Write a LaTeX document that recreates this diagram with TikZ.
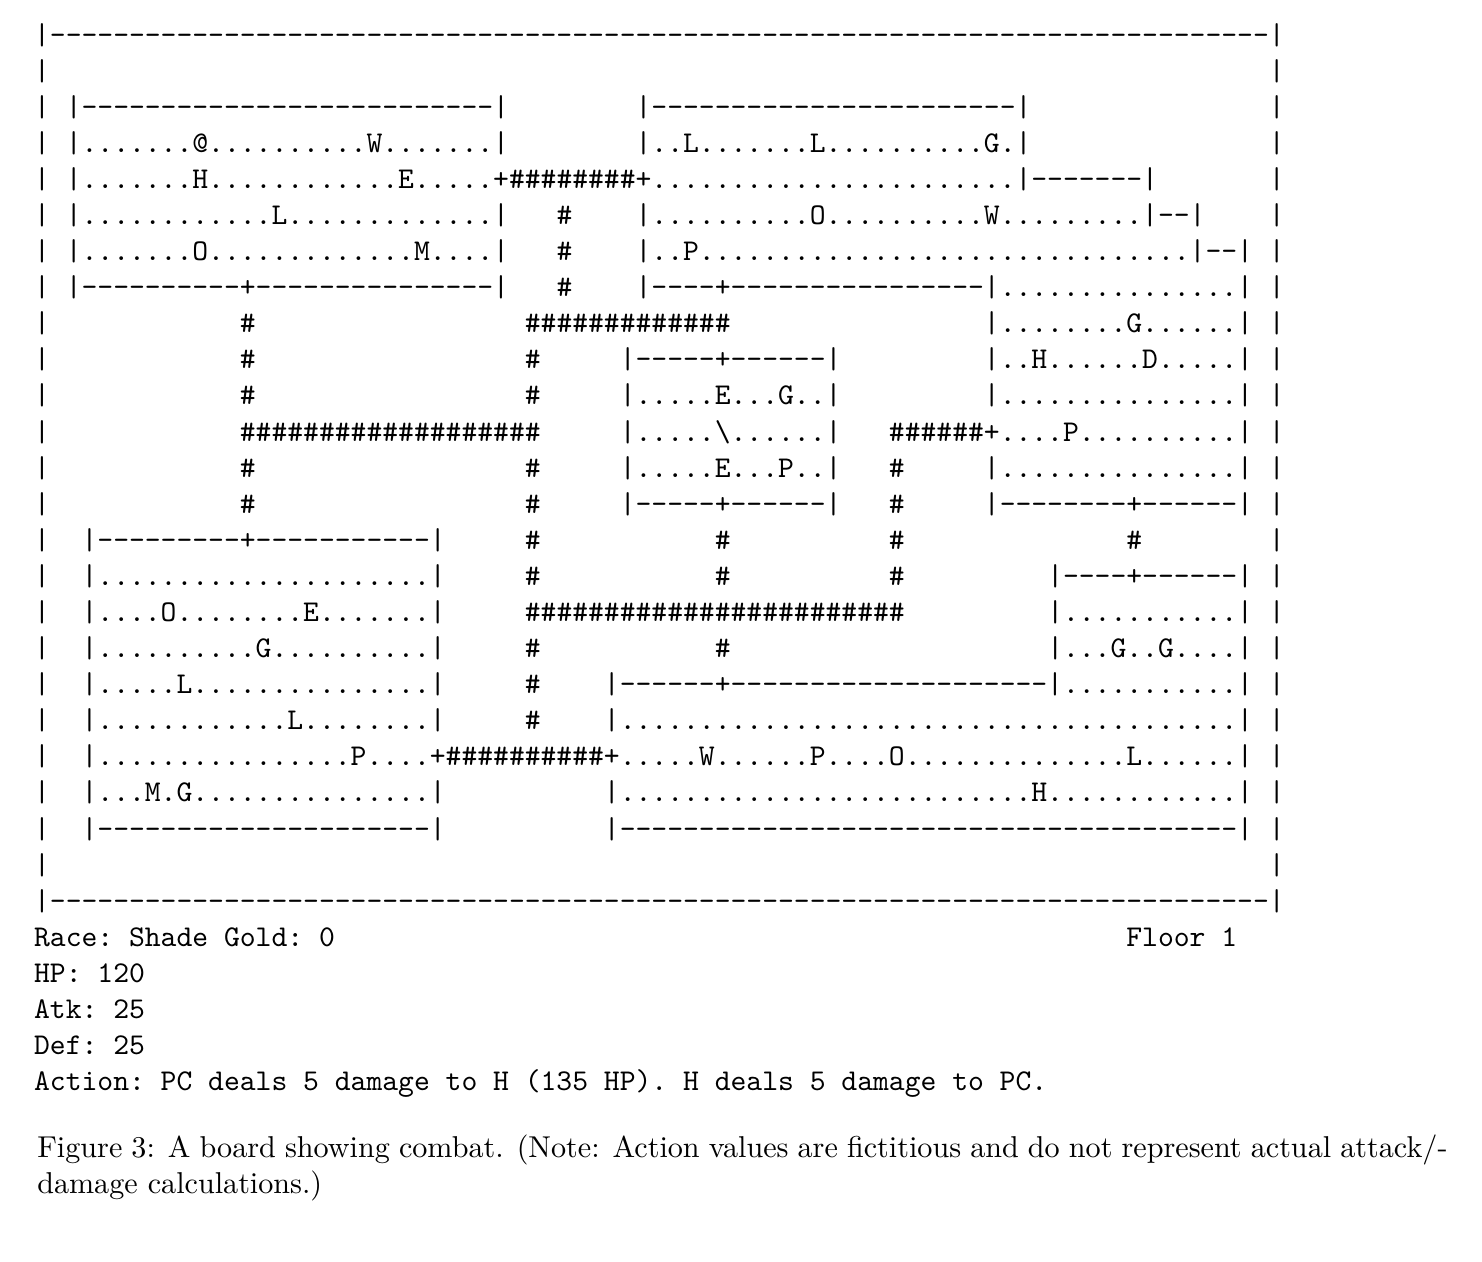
\documentclass[tikz,border=0pt]{standalone}
\usepackage{tikz}
\tikzset{
  board-style/.style = {
    x=5.25pt, y=-11.97pt
  },
  cell-style/.style = {
    anchor=base west, inner sep=0pt, outer sep=0pt,
    font=\ttfamily\frenchspacing
  },
  caption-style/.style = {
    anchor=base west, inner sep=0pt, outer sep=0pt,
    font=\rmfamily
  }
}
% dashes one by one, so that no ligature joins them
\newcommand\dashes[1]{\foreach \i in {1,...,#1}{-}}
\newcommand\pts[1]{\foreach \i in {1,...,#1}{.}}
\newcommand\hashes[1]{\foreach \i in {1,...,#1}{\#}}
\def\placeSeg row:#1 col:#2 text:#3;{
  \node [cell-style] (r#1c#2) at (#2,#1) {#3};
}

\begin{document}
\begin{tikzpicture}[board-style]
  \useasboundingbox (0pt,0pt) rectangle (491.5pt,-418.5pt);
  \begin{scope}[shift={(11.31pt,-14.59pt)}]
    % outer frame
    \placeSeg row:0 col:0 text:{|\dashes{77}|};
    \foreach \r in {1,...,23} {
      \placeSeg row:{\r} col:0 text:{|};
      \placeSeg row:{\r} col:78 text:{|};
    }
    \placeSeg row:24 col:0 text:{|\dashes{77}|};

    % top left room and top right room
    \placeSeg row:2 col:2 text:{|\dashes{26}|};
    \placeSeg row:2 col:38 text:{|\dashes{23}|};
    \placeSeg row:3 col:2 text:{|\pts{7}@\pts{10}W\pts{7}|};
    \placeSeg row:3 col:38 text:{|\pts{2}L\pts{7}L\pts{10}G\pts{1}|};
    \placeSeg row:4 col:2 text:{|\pts{7}H\pts{12}E\pts{5}+\hashes{8}+\pts{23}|\dashes{7}|};
    \placeSeg row:5 col:2 text:{|\pts{12}L\pts{13}|};
    \placeSeg row:5 col:33 text:{\#};
    \placeSeg row:5 col:38 text:{|\pts{10}O\pts{10}W\pts{9}|\dashes{2}|};
    \placeSeg row:6 col:2 text:{|\pts{7}O\pts{13}M\pts{4}|};
    \placeSeg row:6 col:33 text:{\#};
    \placeSeg row:6 col:38 text:{|\pts{2}P\pts{31}|\dashes{2}|};
    \placeSeg row:7 col:2 text:{|\dashes{10}+\dashes{15}|};
    \placeSeg row:7 col:33 text:{\#};
    \placeSeg row:7 col:38 text:{|\dashes{4}+\dashes{16}|\pts{15}|};

    % middle band
    \placeSeg row:8 col:13 text:{\#};
    \placeSeg row:8 col:31 text:{\hashes{13}};
    \placeSeg row:8 col:60 text:{|\pts{8}G\pts{6}|};
    \placeSeg row:9 col:13 text:{\#};
    \placeSeg row:9 col:31 text:{\#};
    \placeSeg row:9 col:37 text:{|\dashes{5}+\dashes{6}|};
    \placeSeg row:9 col:60 text:{|\pts{2}H\pts{6}D\pts{5}|};
    \placeSeg row:10 col:13 text:{\#};
    \placeSeg row:10 col:31 text:{\#};
    \placeSeg row:10 col:37 text:{|\pts{5}E\pts{3}G\pts{2}|};
    \placeSeg row:10 col:60 text:{|\pts{15}|};
    \placeSeg row:11 col:13 text:{\hashes{19}};
    \placeSeg row:11 col:37 text:{|\pts{5}\textbackslash\pts{6}|};
    \placeSeg row:11 col:54 text:{\hashes{6}+\pts{4}P\pts{10}|};
    \placeSeg row:12 col:13 text:{\#};
    \placeSeg row:12 col:31 text:{\#};
    \placeSeg row:12 col:37 text:{|\pts{5}E\pts{3}P\pts{2}|};
    \placeSeg row:12 col:54 text:{\#};
    \placeSeg row:12 col:60 text:{|\pts{15}|};
    \placeSeg row:13 col:13 text:{\#};
    \placeSeg row:13 col:31 text:{\#};
    \placeSeg row:13 col:37 text:{|\dashes{5}+\dashes{6}|};
    \placeSeg row:13 col:54 text:{\#};
    \placeSeg row:13 col:60 text:{|\dashes{8}+\dashes{6}|};

    % bottom left room, bottom right room
    \placeSeg row:14 col:3 text:{|\dashes{9}+\dashes{11}|};
    \placeSeg row:14 col:31 text:{\#};
    \placeSeg row:14 col:43 text:{\#};
    \placeSeg row:14 col:54 text:{\#};
    \placeSeg row:14 col:69 text:{\#};
    \placeSeg row:15 col:3 text:{|\pts{21}|};
    \placeSeg row:15 col:31 text:{\#};
    \placeSeg row:15 col:43 text:{\#};
    \placeSeg row:15 col:54 text:{\#};
    \placeSeg row:15 col:64 text:{|\dashes{4}+\dashes{6}|};
    \placeSeg row:16 col:3 text:{|\pts{4}O\pts{8}E\pts{7}|};
    \placeSeg row:16 col:31 text:{\hashes{24}};
    \placeSeg row:16 col:64 text:{|\pts{11}|};
    \placeSeg row:17 col:3 text:{|\pts{10}G\pts{10}|};
    \placeSeg row:17 col:31 text:{\#};
    \placeSeg row:17 col:43 text:{\#};
    \placeSeg row:17 col:64 text:{|\pts{3}G\pts{2}G\pts{4}|};
    \placeSeg row:18 col:3 text:{|\pts{5}L\pts{15}|};
    \placeSeg row:18 col:31 text:{\#};
    \placeSeg row:18 col:36 text:{|\dashes{6}+\dashes{20}|\pts{11}|};
    \placeSeg row:19 col:3 text:{|\pts{12}L\pts{8}|};
    \placeSeg row:19 col:31 text:{\#};
    \placeSeg row:19 col:36 text:{|\pts{39}|};
    \placeSeg row:20 col:3 text:{|\pts{16}P\pts{4}+\hashes{10}+\pts{5}W\pts{6}P\pts{4}O\pts{14}L\pts{6}|};
    \placeSeg row:21 col:3 text:{|\pts{3}M.G\pts{15}|};
    \placeSeg row:21 col:36 text:{|\pts{26}H\pts{12}|};
    \placeSeg row:22 col:3 text:{|\dashes{21}|};
    \placeSeg row:22 col:36 text:{|\dashes{39}|};

    % status lines
    \placeSeg row:25 col:0 text:{Race: Shade Gold: 0};
    \placeSeg row:25 col:69 text:{Floor 1};
    \placeSeg row:26 col:0 text:{HP: 120};
    \placeSeg row:27 col:0 text:{Atk: 25};
    \placeSeg row:28 col:0 text:{Def: 25};
    \placeSeg row:29 col:0 text:{Action: PC deals 5 damage to H (135 HP). H deals 5 damage to PC.};

    % caption
    \node [caption-style] (capA) at (0.2,30.84)
      {\makebox[467.7pt][s]{Figure 3: A board showing combat. (Note: Action values are fictitious and do not represent actual attack/-}};
    \node [caption-style] (capB) at (0.2,31.84) {damage calculations.)};
  \end{scope}
\end{tikzpicture}
\end{document}
